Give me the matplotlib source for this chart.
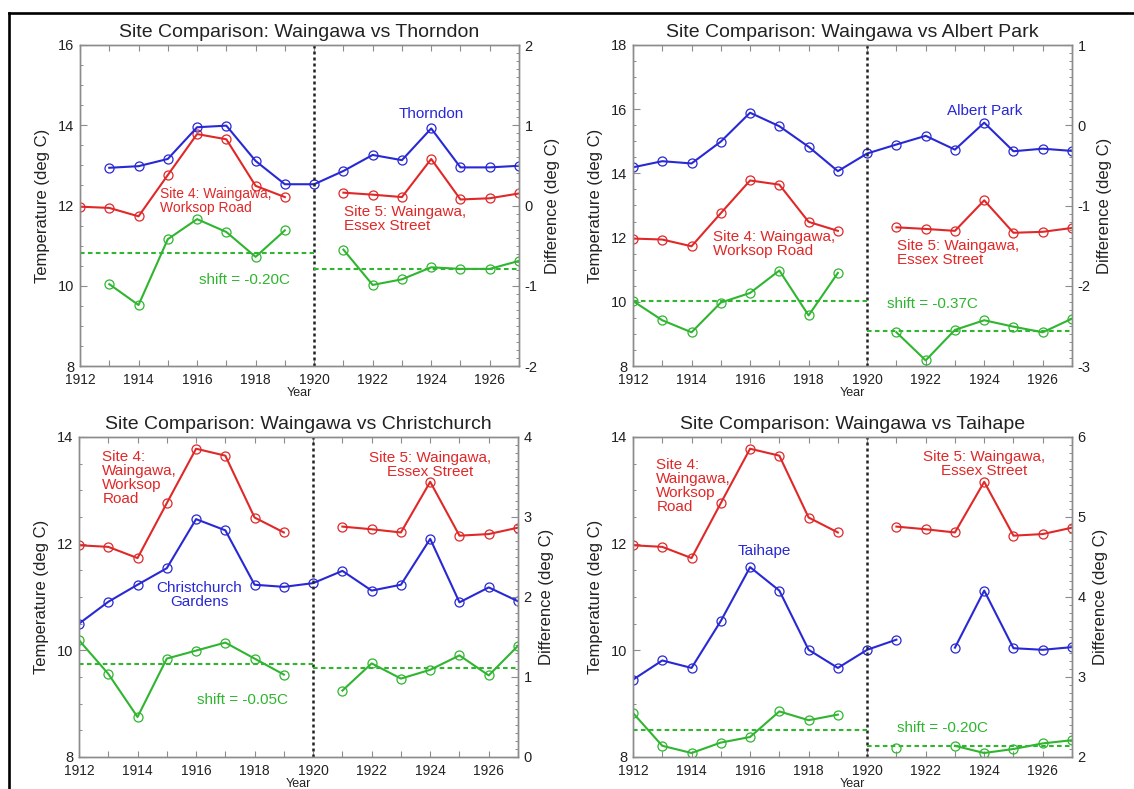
import numpy as np
import matplotlib
matplotlib.use('Agg')
import matplotlib.pyplot as plt
from matplotlib.ticker import FixedLocator, MultipleLocator, FuncFormatter
from matplotlib.lines import Line2D

plt.rcParams['font.family'] = ['Liberation Sans', 'DejaVu Sans']
plt.rcParams['axes.unicode_minus'] = False

nan = np.nan
years = list(range(1912, 1928))

# Waingawa (sites 4 and 5) temperature, common to all panels
waingawa = [11.97, 11.94, 11.73, 12.76, 13.78, 13.65, 12.49, 12.21, nan,
            12.32, 12.27, 12.21, 13.16, 12.15, 12.18, 12.30]

# Comparison sites
thorndon = [nan, 12.94, 12.98, 13.16, 13.95, 13.99, 13.11, 12.53, 12.53,
            12.86, 13.26, 13.13, 13.92, 12.95, 12.95, 12.99]
albert_park = [14.19, 14.38, 14.31, 14.99, 15.89, 15.47, 14.83, 14.07, 14.62,
               14.90, 15.17, 14.74, 15.58, 14.69, 14.77, 14.70]
christchurch = [10.50, 10.91, 11.23, 11.54, 12.46, 12.25, 11.23, 11.19, 11.26,
                11.49, 11.12, 11.23, 12.09, 10.90, 11.18, 10.92]
taihape = [9.45, 9.81, 9.67, 10.55, 11.56, 11.12, 10.01, 9.67, 10.01,
           10.20, nan, 10.05, 11.12, 10.04, 10.01, 10.06]

# Differences (right axis)
diff_thorndon = [nan, -0.98, -1.24, -0.42, -0.17, -0.33, -0.64, -0.31, nan,
                 -0.55, -0.99, -0.92, -0.77, -0.79, -0.79, -0.69]
diff_albert = [-2.19, -2.43, -2.58, -2.21, -2.09, -1.81, -2.37, -1.84, nan,
               -2.58, -2.93, -2.55, -2.43, -2.51, -2.58, -2.41]
diff_christchurch = [1.46, 1.04, 0.50, 1.23, 1.33, 1.43, 1.23, 1.03, nan,
                     0.83, 1.17, 0.98, 1.09, 1.27, 1.02, 1.39]
diff_taihape = [2.55, 2.14, 2.05, 2.18, 2.25, 2.57, 2.46, 2.53, nan,
                2.11, nan, 2.14, 2.05, 2.10, 2.17, 2.21]

# Mean difference before / after the 1920 site change
mean_before = [-0.59, -2.19, 1.16, 2.34]
mean_after = [-0.79, -2.57, 1.11, 2.14]
shift_labels = ['shift = -0.20C', 'shift = -0.37C', 'shift = -0.05C', 'shift = -0.20C']

titles = ['Site Comparison: Waingawa vs Thorndon',
          'Site Comparison: Waingawa vs Albert Park',
          'Site Comparison: Waingawa vs Christchurch',
          'Site Comparison: Waingawa vs Taihape']
comp_names = ['Thorndon', 'Albert Park', 'Christchurch\nGardens', 'Taihape']
comp_series = [thorndon, albert_park, christchurch, taihape]
diff_series = [diff_thorndon, diff_albert, diff_christchurch, diff_taihape]
temp_lims = [(8, 16), (8, 18), (8, 14), (8, 14)]
diff_lims = [(-2, 2), (-3, 1), (0, 4), (2, 6)]
site4_texts = ['Site 4: Waingawa,\nWorksop Road', 'Site 4: Waingawa,\nWorksop Road',
               'Site 4:\nWaingawa,\nWorksop\nRoad', 'Site 4:\nWaingawa,\nWorksop\nRoad']
site5_text = 'Site 5: Waingawa,\nEssex Street'

# annotation placement (x in years, y in temperature units)
name_pos = [(1924.0, 14.27), (1924.0, 15.94), (1916.1, 11.03), (1916.5, 11.87)]
site4_pos = [(1914.72, 12.12), (1914.74, 11.80), (1912.80, 13.23), (1912.80, 13.08)]
site4_size = [10, 11, 11, 11]
site5_pos = [(1921.01, 11.66), (1921.02, 11.52), (1923.99, 13.48), (1924.0, 13.50)]
site5_ha = ['left', 'left', 'center', 'center']
shift_pos = [(1917.62, 10.14), (1922.22, 9.92), (1917.60, 9.07), (1922.59, 8.54)]

RED = '#e02828'
BLUE = '#2828d4'
GREEN = '#2fb52f'
SPINE = '#8c8c8c'

W, H = 1134, 789
fig = plt.figure(figsize=(W / 100, H / 100), dpi=100)
fig.patch.set_facecolor('white')

# axes pixel boxes: (left, right, top, bottom)
boxes = [(80, 519, 45, 366), (633, 1072, 45, 366),
         (79, 518, 437, 757), (633, 1072, 437, 757)]

def fmt_year(v, p):
    iv = int(round(v))
    return str(iv) if (iv % 2 == 0 and iv < 1927) else ''

MS = 6.5
for i in range(4):
    l, r, t, b = boxes[i]
    ax = fig.add_axes([l / W, 1 - b / H, (r - l) / W, (b - t) / H])
    ax.plot(years, waingawa, color=RED, lw=1.5, marker='o', ms=MS,
            mfc='none', mec=RED, mew=0.9)
    ax.plot(years, comp_series[i], color=BLUE, lw=1.5, marker='o', ms=MS,
            mfc='none', mec=BLUE, mew=0.9)
    ax.axvline(1920, color='#222222', lw=1.8, ls=(0, (1.2, 1.2)))
    ax.set_xlim(1912, 1927)
    ax.set_ylim(*temp_lims[i])
    ax.xaxis.set_major_locator(FixedLocator(years))
    ax.xaxis.set_major_formatter(FuncFormatter(fmt_year))
    ax.yaxis.set_major_locator(MultipleLocator(2))
    ax.yaxis.set_minor_locator(MultipleLocator(0.5))
    ax.tick_params(axis='x', which='major', direction='in', top=True, bottom=True,
                   length=4.5, width=0.8, color=SPINE, labelsize=10, pad=5.2,
                   labelcolor='#222222')
    ax.tick_params(axis='y', which='major', direction='in', right=False,
                   length=5, width=0.8, color=SPINE, labelsize=10.5, pad=4,
                   labelcolor='#222222')
    ax.tick_params(axis='y', which='minor', direction='in', right=False,
                   length=2.5, width=0.7, color=SPINE)
    for s in ax.spines.values():
        s.set_color(SPINE)
        s.set_linewidth(1.0)
    ax.set_ylabel('Temperature (deg C)', fontsize=12, labelpad=6, color='#222222')
    ax.set_xlabel('Year', fontsize=9, labelpad=0, color='#222222')
    ax.set_title(titles[i], fontsize=14, pad=6, color='#222222')

    # annotations
    ax.text(*name_pos[i], comp_names[i], color=BLUE, fontsize=11,
            ha='center', va='center', multialignment='center', linespacing=1.0)
    ax.text(*site4_pos[i], site4_texts[i], color=RED, fontsize=site4_size[i],
            ha='left', va='center', multialignment='left', linespacing=1.0)
    ax.text(*site5_pos[i], site5_text, color=RED, fontsize=11,
            ha=site5_ha[i], va='center', multialignment=site5_ha[i], linespacing=1.0)
    ax.text(*shift_pos[i], shift_labels[i], color=GREEN, fontsize=11,
            ha='center', va='center')

    ax2 = ax.twinx()
    ax2.plot(years, diff_series[i], color=GREEN, lw=1.5, marker='o', ms=MS,
             mfc='none', mec=GREEN, mew=0.9)
    ax2.plot([1912, 1920], [mean_before[i]] * 2, color=GREEN, lw=1.5,
             ls=(0, (2.2, 1.6)))
    ax2.plot([1920, 1927], [mean_after[i]] * 2, color=GREEN, lw=1.5,
             ls=(0, (2.2, 1.6)))
    ax2.set_ylim(*diff_lims[i])
    ax2.set_xlim(1912, 1927)
    ax2.yaxis.set_major_locator(MultipleLocator(1))
    ax2.yaxis.set_minor_locator(MultipleLocator(0.1))
    ax2.tick_params(axis='y', which='major', direction='in', length=5, width=0.8,
                    color=SPINE, labelsize=10.5, pad=4, labelcolor='#222222')
    ax2.tick_params(axis='y', which='minor', direction='in', length=2.5,
                    width=0.7, color=SPINE)
    for s in ax2.spines.values():
        s.set_color(SPINE)
        s.set_linewidth(1.0)
    ax2.set_ylabel('Difference (deg C)', fontsize=12, rotation=90, labelpad=5,
                   color='#222222')

# black frame at left and top edge of the image
fig.add_artist(Line2D([9 / W, 9 / W], [0, 1 - 13 / H], color='black', lw=1.9,
                      transform=fig.transFigure))
fig.add_artist(Line2D([9 / W, 1], [1 - 13 / H, 1 - 13 / H], color='black', lw=1.9,
                      transform=fig.transFigure))

fig.savefig('out.png', dpi=100)
